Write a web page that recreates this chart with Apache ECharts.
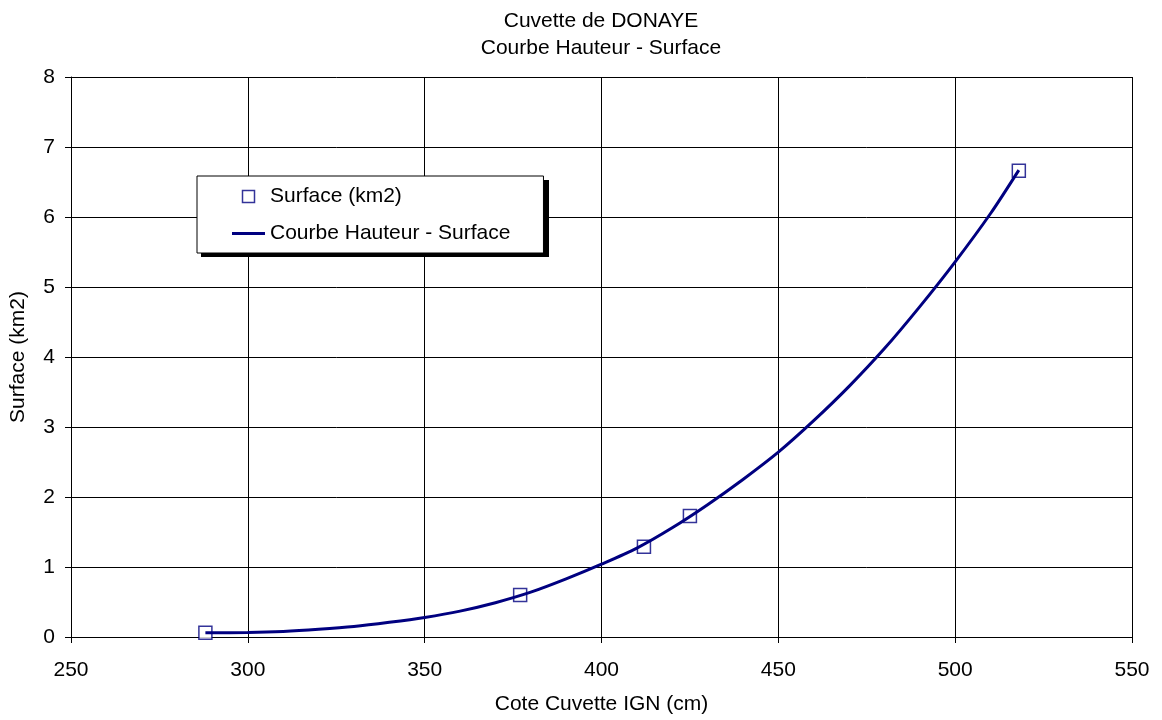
<!DOCTYPE html>
<html>
<head>
<meta charset="utf-8">
<script src="https://cdn.jsdelivr.net/npm/echarts@6/dist/echarts.min.js"></script>
<style>
html,body{margin:0;padding:0;background:#fff;}
#chart{width:1162px;height:720px;}
</style>
</head>
<body>
<div id="chart"></div>
<script>
// Measured points
const pointX = [288, 377, 412, 425, 518];
const pointY = [0.06, 0.60, 1.29, 1.73, 6.66];
// Fitted curve
const curveX = [288, 300, 310, 320, 330, 340, 350, 360, 370, 380, 390, 400, 410, 420, 430, 440, 450, 460, 470, 480, 490, 500, 510, 518];
const curveY = [0.06, 0.065, 0.08, 0.11, 0.15, 0.21, 0.28, 0.37, 0.49, 0.64, 0.83, 1.04, 1.27, 1.56, 1.89, 2.25, 2.64, 3.09, 3.58, 4.12, 4.72, 5.36, 6.05, 6.67];
const titleLines = ['Cuvette de DONAYE', 'Courbe Hauteur - Surface'];
const seriesNames = ['Surface (km2)', 'Courbe Hauteur - Surface'];
const xAxisName = 'Cote Cuvette IGN (cm)';
const yAxisName = 'Surface (km2)';

const FONT = '"Liberation Sans", Arial, sans-serif';
const FS = 21;
const NAVY = '#000080';
const chart = echarts.init(document.getElementById('chart'), null, {renderer: 'canvas'});

chart.setOption({
  animation: false,
  backgroundColor: '#fff',
  textStyle: {fontFamily: FONT, color: '#000'},
  title: {
    text: titleLines.join('\n'),
    left: 601,
    top: 8,
    padding: 0,
    textAlign: 'center',
    textStyle: {fontFamily: FONT, fontSize: FS, fontWeight: 'normal', color: '#000', lineHeight: 27}
  },
  graphic: [{
    type: 'rect',
    z: 3,
    silent: true,
    shape: {x: 201, y: 180, width: 348, height: 77},
    style: {fill: '#000'}
  }],
  grid: {left: 71, right: 30, top: 77, bottom: 83, containLabel: false},
  legend: {
    orient: 'vertical',
    left: 197,
    top: 176,
    z: 6,
    padding: [10, 33, 9, 35],
    itemGap: 16,
    itemWidth: 33,
    itemHeight: 12,
    symbolKeepAspect: true,
    backgroundColor: '#fff',
    borderColor: '#000',
    borderWidth: 1,
    textStyle: {fontFamily: FONT, fontSize: FS, color: '#000'},
    data: [
      {name: seriesNames[0], icon: 'path://M0,0H10V10H0Z', itemStyle: {color: '#fff', borderColor: NAVY, borderWidth: 1.5}},
      {name: seriesNames[1], icon: 'path://M0,0H33V3H0Z', itemStyle: {color: NAVY, borderWidth: 0}}
    ]
  },
  xAxis: {
    type: 'value',
    min: 250, max: 550, interval: 50,
    name: xAxisName,
    nameLocation: 'middle',
    nameGap: 57,
    nameTextStyle: {fontFamily: FONT, fontSize: FS, color: '#000', verticalAlign: 'top'},
    axisLine: {show: true, onZero: false, lineStyle: {color: '#000', width: 1}},
    axisTick: {show: true, inside: false, length: 6, lineStyle: {color: '#000'}},
    axisLabel: {fontFamily: FONT, fontSize: FS, color: '#000', margin: 23},
    splitLine: {show: true, lineStyle: {color: '#000', width: 1}}
  },
  yAxis: {
    type: 'value',
    min: 0, max: 8, interval: 1,
    name: yAxisName,
    nameLocation: 'middle',
    nameGap: 42,
    nameTextStyle: {fontFamily: FONT, fontSize: FS, color: '#000'},
    axisLine: {show: true, lineStyle: {color: '#000', width: 1}},
    axisTick: {show: true, inside: false, length: 6, lineStyle: {color: '#000'}},
    axisLabel: {fontFamily: FONT, fontSize: FS, color: '#000', margin: 16},
    splitLine: {show: true, lineStyle: {color: '#000', width: 1}}
  },
  series: [
    {
      name: seriesNames[0],
      type: 'scatter',
      symbol: 'rect',
      symbolSize: 13,
      itemStyle: {color: '#fff', borderColor: NAVY, borderWidth: 1.5},
      data: pointX.map((x, i) => [x, pointY[i]]),
      z: 2
    },
    {
      name: seriesNames[1],
      type: 'line',
      showSymbol: false,
      symbol: 'none',
      smooth: 0.3,
      lineStyle: {color: NAVY, width: 3},
      itemStyle: {color: NAVY},
      data: curveX.map((x, i) => [x, curveY[i]]),
      z: 3
    }
  ]
});
</script>
</body>
</html>
